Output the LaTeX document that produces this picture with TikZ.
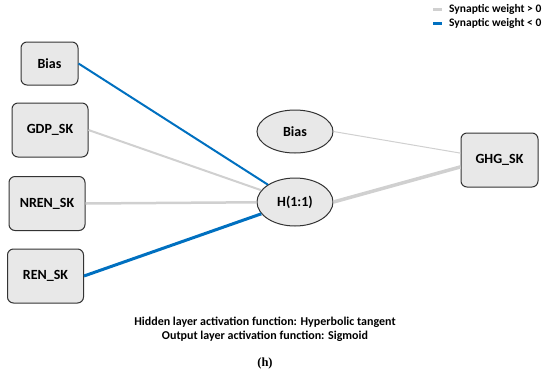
\documentclass[tikz,border=0pt]{standalone}
\usepackage{fontspec}
\setmainfont{Carlito}
\newfontfamily\capfont{Liberation Serif}
\usetikzlibrary{positioning,shapes.geometric}
\definecolor{negblue}{RGB}{0,112,192}
\definecolor{posgray}{RGB}{208,208,208}
\definecolor{boxfill}{RGB}{232,232,232}

\begin{document}
\begin{tikzpicture}[x=1pt,y=-1pt,
  unit/.style={draw=black!80,fill=boxfill,line width=1pt,font=\bfseries\fontsize{14}{16}\selectfont},
  inbox/.style={unit,rounded corners=6pt,minimum width=76pt,minimum height=54pt},
  hid/.style={unit,ellipse,inner sep=0pt,minimum width=76pt,minimum height=48pt},
  pos/.style={posgray,line width=#1},
  neg/.style={negblue,line width=#1},
  note/.style={font=\bfseries\fontsize{12}{13.5}\selectfont,align=center}]
\useasboundingbox (0,0) rectangle (550,376);
% inputs
\node[inbox,minimum width=57pt,minimum height=43pt] (biasin) at (49.5,63.5) {Bias};
\node[inbox] (gdp) at (50,130) {GDP\_SK};
\node[inbox] (nren) at (47,203.5) {NREN\_SK};
\node[inbox] (ren) at (45.5,276) {REN\_SK};
% hidden and output
\node[hid,minimum height=43pt] (biash) at (295,131.5) {Bias};
\node[hid] (h) at (295,202) {H(1:1)};
\node[inbox,minimum width=77pt] (ghg) at (499.5,160) {GHG\_SK};
% weights
\draw[neg=2pt] (biasin.east) -- (h);
\draw[pos=2pt] (gdp.east) -- (h);
\draw[pos=2.5pt] (nren.east) -- (h);
\draw[neg=3pt] (ren.east) -- (h);
\draw[pos=1pt] (biash.east) -- (ghg.170);
\draw[pos=3.5pt] (h.east) -- (ghg.-170);
% legend
\node[note,font=\bfseries\fontsize{11.5}{13}\selectfont,anchor=west,inner sep=0pt] (lpos) at (449,9) {Synaptic weight > 0};
\node[note,font=\bfseries\fontsize{11.5}{13}\selectfont,anchor=west,inner sep=0pt] (lneg) at (449,23) {Synaptic weight < 0};
\draw[pos=3pt] ([xshift=-16pt]lpos.west) -- ([xshift=-7pt]lpos.west);
\draw[neg=3pt] ([xshift=-16pt]lneg.west) -- ([xshift=-7pt]lneg.west);
% caption
\node[note] (act) at (265,329.5) {Hidden layer activation function: Hyperbolic tangent\\Output layer activation function: Sigmoid};
\node[font=\capfont\bfseries\fontsize{12.5}{14}\selectfont] (lab) at (265,363) {(h)};
\end{tikzpicture}
\end{document}
